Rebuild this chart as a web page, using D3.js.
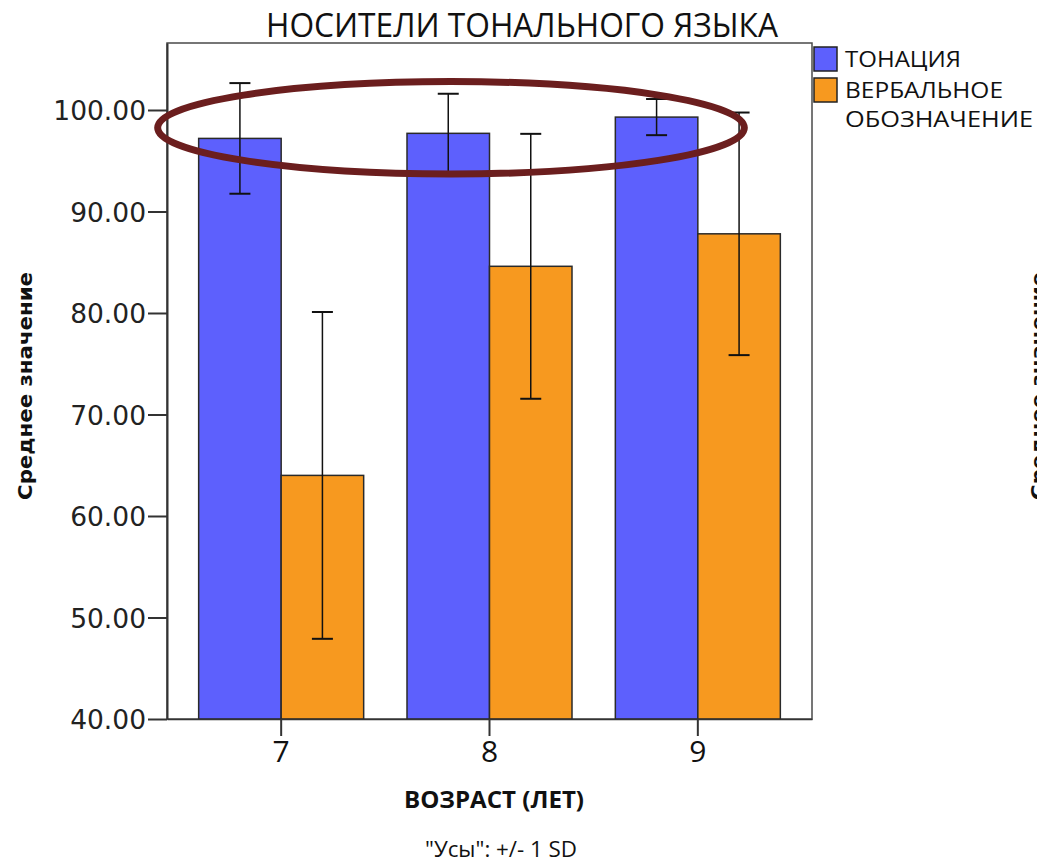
<!DOCTYPE html>
<html>
<head>
<meta charset="utf-8">
<script src="https://cdn.jsdelivr.net/npm/d3@7"></script>
<style>
  html, body { margin: 0; padding: 0; background: #ffffff; }
  svg { display: block; }
</style>
</head>
<body>
<div id="chart"></div>
<script>
// Ages (categories), series, means and standard deviations
const ages = ["7", "8", "9"];
const seriesNames = ["ТОНАЦИЯ", "ВЕРБАЛЬНОЕ ОБОЗНАЧЕНИЕ"];
const toneMeans = [97.2, 97.7, 99.3];
const toneSD = [5.45, 3.9, 1.78];
const verbalMeans = [64.0, 84.6, 87.8];
const verbalSD = [16.1, 13.05, 11.95];
const yTicks = [40, 50, 60, 70, 80, 90, 100];
const seriesColors = ["#5d60fd", "#f7991f"];

const W = 1037, H = 865;
const frame = { left: 167, right: 812, top: 43, bottom: 719 };

const svg = d3.select("#chart").append("svg")
  .attr("width", W).attr("height", H);

const rows = ages.map((a, i) => ({
  age: a,
  values: [
    { s: 0, mean: toneMeans[i], sd: toneSD[i] },
    { s: 1, mean: verbalMeans[i], sd: verbalSD[i] }
  ]
}));

const x0 = d3.scaleBand().domain(ages)
  .range([frame.left, frame.right])
  .paddingInner(0.208).paddingOuter(0.152);
const x1 = d3.scaleBand().domain([0, 1]).range([0, x0.bandwidth()]);
const y = d3.scaleLinear().domain([40, 106.6]).range([frame.bottom, frame.top]);

// plot frame
svg.append("rect")
  .attr("x", frame.left).attr("y", frame.top)
  .attr("width", frame.right - frame.left)
  .attr("height", frame.bottom - frame.top)
  .attr("fill", "none").attr("stroke", "#4a4a4a").attr("stroke-width", 1.5);

// bars
const groups = svg.append("g").selectAll("g").data(rows).join("g")
  .attr("transform", d => `translate(${x0(d.age)},0)`);

groups.selectAll("rect").data(d => d.values).join("rect")
  .attr("x", d => x1(d.s))
  .attr("y", d => y(d.mean))
  .attr("width", x1.bandwidth())
  .attr("height", d => y(40) - y(d.mean))
  .attr("fill", d => seriesColors[d.s])
  .attr("stroke", "#2a2a2a").attr("stroke-width", 1.5);

// error bars, +/- 1 SD
const capHalf = 10.5;
const err = groups.selectAll("g.err").data(d => d.values).join("g").attr("class", "err");
err.append("line")
  .attr("x1", d => x1(d.s) + x1.bandwidth() / 2)
  .attr("x2", d => x1(d.s) + x1.bandwidth() / 2)
  .attr("y1", d => y(d.mean + d.sd))
  .attr("y2", d => y(d.mean - d.sd))
  .attr("stroke", "#111").attr("stroke-width", 1.5);
[1, -1].forEach(sign => {
  err.append("line")
    .attr("x1", d => x1(d.s) + x1.bandwidth() / 2 - capHalf)
    .attr("x2", d => x1(d.s) + x1.bandwidth() / 2 + capHalf)
    .attr("y1", d => y(d.mean + sign * d.sd))
    .attr("y2", d => y(d.mean + sign * d.sd))
    .attr("stroke", "#111").attr("stroke-width", 2);
});

// y axis
const yAxis = svg.append("g")
  .attr("transform", `translate(${frame.left},0)`)
  .call(d3.axisLeft(y).tickValues(yTicks).tickFormat(d3.format(".2f"))
    .tickSizeInner(19).tickSizeOuter(0).tickPadding(2));
yAxis.select(".domain").attr("stroke", "#333").attr("stroke-width", 2);
yAxis.selectAll(".tick line").attr("stroke", "#333").attr("stroke-width", 2);
yAxis.selectAll(".tick text")
  .attr("font-family", "DejaVu Sans").attr("font-size", 26.5).attr("fill", "#222")
  .attr("dy", "0.36em");

// x axis
const xAxis = svg.append("g")
  .attr("transform", `translate(0,${frame.bottom})`)
  .call(d3.axisBottom(x0).tickSizeInner(17).tickSizeOuter(0).tickPadding(5));
xAxis.select(".domain").attr("stroke", "#333").attr("stroke-width", 1.5);
xAxis.selectAll(".tick line").attr("stroke", "#333").attr("stroke-width", 2);
xAxis.selectAll(".tick text")
  .attr("font-family", "Open Sans").attr("font-size", 30).attr("fill", "#111");

// title
svg.append("text")
  .attr("x", 522).attr("y", 37)
  .attr("text-anchor", "middle")
  .attr("font-family", "Open Sans").attr("font-size", 32).attr("fill", "#111")
  .attr("textLength", 512).attr("lengthAdjust", "spacingAndGlyphs")
  .text("НОСИТЕЛИ ТОНАЛЬНОГО ЯЗЫКА");

// axis titles
svg.append("text")
  .attr("x", 494).attr("y", 808)
  .attr("text-anchor", "middle")
  .attr("font-family", "Open Sans").attr("font-weight", "bold")
  .attr("font-size", 23).attr("fill", "#111")
  .attr("textLength", 180).attr("lengthAdjust", "spacingAndGlyphs")
  .text("ВОЗРАСТ (ЛЕТ)");

svg.append("text")
  .attr("x", 501).attr("y", 857)
  .attr("text-anchor", "middle")
  .attr("font-family", "Open Sans").attr("font-size", 22).attr("fill", "#111")
  .attr("textLength", 152).attr("lengthAdjust", "spacingAndGlyphs")
  .text("\"Усы\": +/- 1 SD");

const yTitle = (cx) => svg.append("text")
  .attr("transform", `translate(${cx},386) rotate(-90)`)
  .attr("text-anchor", "middle")
  .attr("font-family", "DejaVu Sans").attr("font-weight", "bold")
  .attr("font-size", 19.5).attr("fill", "#111")
  .attr("textLength", 228).attr("lengthAdjust", "spacingAndGlyphs")
  .text("Среднее значение");
yTitle(32);
// the next panel's axis title, running off the right edge
yTitle(1045);

// legend
const legend = svg.append("g").attr("transform", "translate(814,47)");
const legendLines = [["ТОНАЦИЯ"], ["ВЕРБАЛЬНОЕ", "ОБОЗНАЧЕНИЕ"]];
const legendWidths = [[116], [158, 188]];
seriesNames.forEach((name, i) => {
  const g = legend.append("g").attr("transform", `translate(0,${i * 31})`);
  g.append("rect").attr("width", 23).attr("height", 24)
    .attr("fill", seriesColors[i]).attr("stroke", "#222").attr("stroke-width", 1.5);
  legendLines[i].forEach((line, j) => {
    g.append("text")
      .attr("x", 31).attr("y", 20 + j * 29)
      .attr("font-family", "Open Sans").attr("font-size", 22).attr("fill", "#111")
      .attr("textLength", legendWidths[i][j]).attr("lengthAdjust", "spacingAndGlyphs")
      .text(line);
  });
});

// highlight ring around the top of the bars
const ringTop = y(102.8), ringBottom = y(93.7);
const ringLeft = x0("7") - 41, ringRight = x0("9") + 129;
svg.append("ellipse")
  .attr("cx", (ringLeft + ringRight) / 2)
  .attr("cy", (ringTop + ringBottom) / 2)
  .attr("rx", (ringRight - ringLeft) / 2)
  .attr("ry", (ringBottom - ringTop) / 2)
  .attr("fill", "none").attr("stroke", "#6b1e1e").attr("stroke-width", 7);
</script>
</body>
</html>
